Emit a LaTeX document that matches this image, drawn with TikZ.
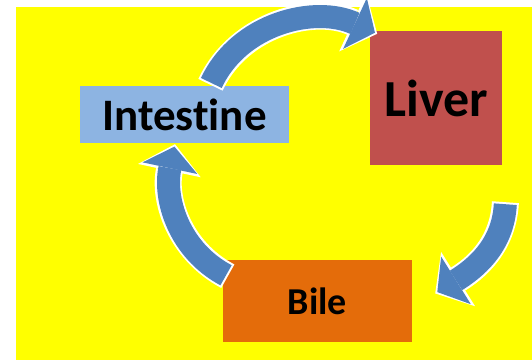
\documentclass[tikz,border=0pt]{standalone}
\usepackage{fontspec}
\setmainfont{Carlito}[Ligatures={NoCommon}, Contextuals={NoAlternate}]
\usetikzlibrary{positioning}
\usetikzlibrary{shapes,arrows.meta}
\definecolor{backyellow}{HTML}{FFFF00}
\definecolor{gutblue}{HTML}{8DB4E2}
\definecolor{liverred}{HTML}{C0504D}
\definecolor{bileorange}{HTML}{E46C0A}
\definecolor{flowblue}{HTML}{4F81BD}

\begin{document}
\begin{tikzpicture}[x=1pt, y=1pt, node distance=2cm, auto]

% Doboz és nyíl stílusok
\tikzstyle{organ} = [rectangle, inner sep=0pt, text centered, text=black]
\tikzstyle{gut} = [organ, minimum width=209pt, minimum height=57pt, fill=gutblue, font=\bfseries\fontsize{45}{54}\selectfont]
\tikzstyle{liverbox} = [organ, minimum width=132pt, minimum height=134pt, fill=liverred, font=\bfseries\fontsize{52}{62}\selectfont]
\tikzstyle{bilebox} = [organ, minimum width=189pt, minimum height=82pt, fill=bileorange, font=\bfseries\fontsize{38}{46}\selectfont]
\tikzstyle{rim} = [draw=white, line width=27pt, -{Triangle[length=27pt, width=64pt, line width=0pt]}]
\tikzstyle{flow} = [draw=flowblue, line width=23pt, shorten >=2.5pt, shorten <=2pt, -{Triangle[length=22pt, width=56pt, line width=0pt]}]

% Háttér
\path[use as bounding box] (0,0) rectangle (532,360);
\fill[backyellow] (16,0) rectangle (532,353);

% Dobozok
\node (intestine) [gut] at (184.5,245.5) {Intestine};
\node (liver) [liverbox, right=81pt of intestine, yshift=16.5pt] {Liver};
\node (bile) [bilebox, below=117pt of intestine, xshift=133pt] {Bile};

% Körforgás nyilai
\draw [rim] ([xshift=26pt, yshift=1pt]intestine.north) to[out=65, in=155] ([xshift=7pt, yshift=-3pt]liver.north west);
\draw [flow] ([xshift=26pt, yshift=1pt]intestine.north) to[out=65, in=155] ([xshift=7pt, yshift=-3pt]liver.north west);
\draw [rim] ([xshift=69pt, yshift=-37pt]liver.south) to[out=267, in=32] ([xshift=23pt, yshift=8pt]bile.east);
\draw [flow] ([xshift=69pt, yshift=-37pt]liver.south) to[out=267, in=32] ([xshift=23pt, yshift=8pt]bile.east);
\draw [rim] ([xshift=5pt, yshift=-16pt]bile.north west) to[out=152, in=258] ([xshift=-9.5pt, yshift=-1pt]intestine.south);
\draw [flow] ([xshift=5pt, yshift=-16pt]bile.north west) to[out=152, in=258] ([xshift=-9.5pt, yshift=-1pt]intestine.south);
\end{tikzpicture}
\end{document}
